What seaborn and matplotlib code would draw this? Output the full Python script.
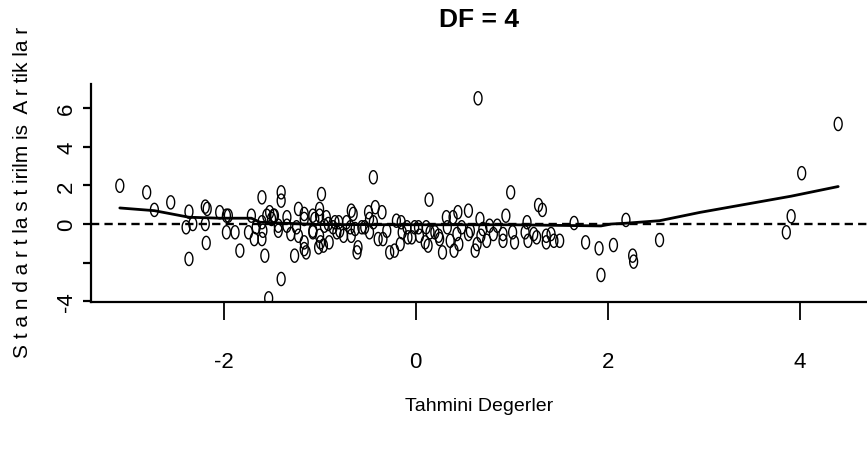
import numpy as np
import pandas as pd
import matplotlib
matplotlib.use("Agg")
import matplotlib.pyplot as plt
import seaborn as sns
from matplotlib.path import Path
from matplotlib.markers import MarkerStyle

# ---------------- data ----------------
fitted = [-3.08, -2.80, -2.72, -2.55, -2.36, -2.39, -2.32, -2.36, -2.19, -2.17,
          -2.19, -2.18, -2.04, -1.97, -1.95, -1.97, -1.88, -1.83, -1.74, -1.71,
          -1.68, -1.66, -1.60, -1.60, -1.59, -1.60, -1.57, -1.55, -1.52, -1.50,
          -1.48, -1.53, -1.40, -1.40, -1.40, -1.47, -1.43, -1.43, -1.34, -1.34,
          -1.30, -1.26, -1.22, -1.24, -1.22, -1.16, -1.16, -1.16, -1.16, -1.14,
          -1.07, -1.05, -1.07, -1.07, -1.00, -1.00, -1.01, -1.00, -0.99, -0.98,
          -0.96, -0.95, -0.93, -0.90, -0.91, -0.86, -0.84, -0.80, -0.82, -0.79,
          -0.75, -0.72, -0.68, -0.67, -0.65, -0.67, -0.63, -0.61, -0.60, -0.56,
          -0.53, -0.49, -0.48, -0.48, -0.44, -0.42, -0.44, -0.39, -0.35, -0.34,
          -0.30, -0.27, -0.22, -0.20, -0.16, -0.15, -0.14, -0.09, -0.08, -0.04,
          -0.01, 0.03, 0.04, 0.10, 0.11, 0.13, 0.14, 0.15, 0.20, 0.24,
          0.25, 0.28, 0.32, 0.33, 0.36, 0.39, 0.40, 0.43, 0.44, 0.45,
          0.48, 0.55, 0.55, 0.57, 0.62, 0.64, 0.65, 0.67, 0.68, 0.70,
          0.74, 0.77, 0.81, 0.85, 0.91, 0.91, 0.94, 0.99, 1.01, 1.03,
          1.14, 1.16, 1.17, 1.23, 1.26, 1.28, 1.32, 1.36, 1.36, 1.41,
          1.44, 1.50, 1.65, 1.77, 1.91, 1.93, 2.06, 2.19, 2.26, 2.27,
          2.54, 3.86, 3.91, 4.02, 4.40]
std_resid = [1.98, 1.64, 0.73, 1.12, 0.64, -0.17, 0.00, -1.81, 0.90, 0.78,
             0.00, -0.98, 0.61, 0.43, 0.43, -0.43, -0.43, -1.38, -0.43, 0.43,
             -0.78, -0.17, 1.38, 0.09, -0.35, -0.78, -1.64, 0.43, 0.61, 0.26,
             0.43, -3.85, 1.64, 1.21, -2.85, 0.43, -0.09, -0.35, 0.35, -0.09,
             -0.52, -1.64, 0.78, -0.17, -0.61, 0.52, 0.26, -0.95, -1.30, -1.47,
             0.43, 0.26, -0.35, -0.43, 0.78, 0.43, -1.21, -0.61, -0.95, 1.55,
             -1.12, -0.09, 0.35, -0.95, 0.00, -0.17, 0.09, 0.09, -0.43, -0.35,
             -0.61, 0.09, -0.17, 0.69, 0.52, -0.61, -0.26, -1.47, -1.21, -0.17,
             -0.17, 0.61, 0.26, -0.43, 2.42, 0.87, 0.09, -0.78, 0.61, -0.78,
             -0.35, -1.47, -1.38, 0.17, -1.04, 0.09, -0.43, -0.17, -0.69, -0.69,
             -0.17, -0.17, -0.61, -0.95, -0.17, -1.12, 1.26, -0.43, -0.43, -0.61,
             -0.78, -1.47, 0.35, -0.17, -0.87, 0.35, -1.38, -0.52, 0.61, -1.04,
             -0.17, 0.69, -0.52, -0.35, -1.38, -1.04, 6.51, 0.26, -0.61, -0.26,
             -0.87, -0.09, -0.52, -0.09, -0.52, -0.87, 0.43, 1.64, -0.43, -0.95,
             -0.43, 0.09, -0.87, -0.52, -0.69, 0.98, 0.73, -0.61, -0.95, -0.52,
             -0.87, -0.87, 0.05, -0.95, -1.26, -2.64, -1.09, 0.21, -1.64, -1.95,
             -0.83, -0.43, 0.40, 2.63, 5.18]

smooth_x = [-3.08, -2.72, -2.36, -2.04, -1.71, -1.62, -1.00, 0.00, 1.00, 1.93,
            2.04, 2.19, 2.54, 2.96, 3.91, 4.40]
smooth_y = [0.83, 0.69, 0.35, 0.30, 0.30, 0.09, -0.03, -0.04, -0.04, -0.10,
            0.00, 0.04, 0.17, 0.60, 1.44, 1.94]

x_ticks = [-2, 0, 2, 4]
x_ticklabels = ["-2", "0", "2", "4"]
y_ticks = [-4, -2, 0, 2, 4, 6]
y_ticklabels = ["-4", "", "0", "2", "4", "6"]

title = "DF = 4"
xlabel = "Tahmini Degerler"
ylabel = "S t a n d a r t la s t irilm is  A r tik la r"

# ---------------- figure ----------------
sns.set_style("ticks")
plt.rcParams["font.family"] = ["Liberation Sans", "DejaVu Sans"]
plt.rcParams["axes.unicode_minus"] = False
for k in ["text.color", "axes.labelcolor", "xtick.color", "ytick.color",
          "axes.edgecolor", "xtick.labelcolor", "ytick.labelcolor"]:
    plt.rcParams[k] = "black"

W, H = 867, 452
fig = plt.figure(figsize=(W / 100, H / 100), dpi=100)
ax = fig.add_axes([91 / W, 1 - 303 / H, (W - 91) / W, (303 - 85) / H])

df = pd.DataFrame({"fitted": fitted, "resid": std_resid})
sm = pd.DataFrame({"x": smooth_x, "y": smooth_y})

# tall open ellipse marker, like the reference's narrow circles
t = np.linspace(0, 2 * np.pi, 41)
ell = Path(np.column_stack([0.6 * np.cos(t), np.sin(t)]), closed=True)

ax.axhline(0, color="black", lw=1.7, ls=(0, (3.5, 2.2)), zorder=1)
sns.lineplot(data=sm, x="x", y="y", ax=ax, color="black", lw=2.0,
             sort=False, estimator=None, zorder=2)
sns.scatterplot(data=df, x="fitted", y="resid", ax=ax, marker=MarkerStyle(ell),
                s=90, facecolor="none", edgecolor="black", linewidth=1.0,
                zorder=3)

ax.set_xlim(-3.38, 4.70)
ax.set_ylim(-4.04, 7.25)

for s in ["top", "right"]:
    ax.spines[s].set_visible(False)
for s in ["left", "bottom"]:
    ax.spines[s].set_linewidth(1.6)
    ax.spines[s].set_color("black")

ax.set_xticks(x_ticks)
ax.set_xticklabels(x_ticklabels)
ax.set_yticks(y_ticks)
ax.set_yticklabels(y_ticklabels, rotation=90, va="center")
ax.tick_params(axis="x", length=13, width=1.3, pad=22, labelsize=16)
ax.tick_params(axis="y", length=6, width=1.6, pad=4, labelsize=16)

ax.set_xlabel(xlabel, fontsize=14)
ax.xaxis.set_label_coords(0.5, (303 - 407) / (303 - 85))
ax.xaxis.label.set_va("center")
ax.set_ylabel(ylabel, fontsize=15)
ax.yaxis.set_label_coords((23 - 91) / (W - 91), (303 - 192) / (303 - 85))
ax.yaxis.label.set_va("center")

fig.text((91 + W) / 2 / W, 1 - 20 / H, title, ha="center", va="center",
         fontsize=19, fontweight="bold")

fig.savefig("out.png", dpi=100)
